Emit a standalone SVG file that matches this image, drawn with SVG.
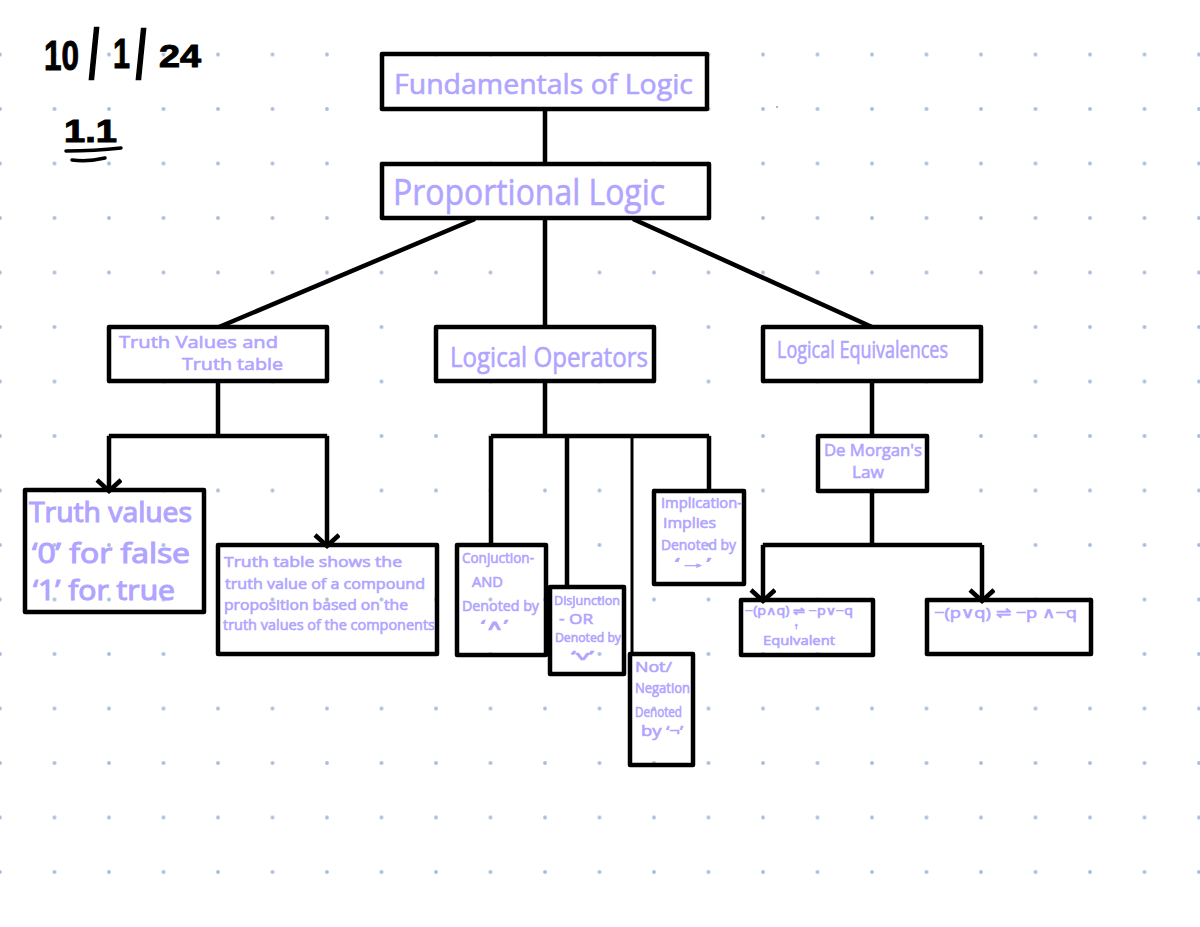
<svg xmlns="http://www.w3.org/2000/svg" width="1200" height="927" viewBox="0 0 1200 927">
<style>
.box{fill:none;stroke:#000;stroke-width:4.5;stroke-linejoin:round}
.link{fill:none;stroke:#000;stroke-width:4.5}
.thin{stroke-width:3}
.t{font-family:"Open Sans","Liberation Sans","DejaVu Sans",sans-serif;fill:#b0a4ff;stroke:#b0a4ff;stroke-width:.6;font-weight:400}
.heavy{stroke-width:1.1}
.ink{font-family:"Liberation Sans",sans-serif;fill:#000;stroke:#000;stroke-width:1;font-weight:700}
.slash{stroke-width:2.5}
</style>
<defs>
<pattern id="dots" width="54.5" height="54.5" patternUnits="userSpaceOnUse"><circle cx="0" cy="0" r="1.9" fill="#a9bddb"/><circle cx="54.5" cy="0" r="1.9" fill="#a9bddb"/><circle cx="0" cy="54.5" r="1.9" fill="#a9bddb"/><circle cx="54.5" cy="54.5" r="1.9" fill="#a9bddb"/></pattern>
<marker id="open" markerUnits="userSpaceOnUse" markerWidth="30" markerHeight="30" refX="14" refY="13" orient="auto"><path d="M3 1L14 13L3 25" fill="none" stroke="#000" stroke-width="4.5"/></marker>
</defs>
<rect width="1200" height="927" fill="#fff"/>
<rect x="0" y="27" width="1200" height="870" fill="url(#dots)"/>
<circle cx="777" cy="107" r=".7" fill="#333"/>
<g id="heading">
<text class="ink" font-size="42" x="44" y="70" textLength="35" lengthAdjust="spacingAndGlyphs">10</text>
<text class="ink slash" font-size="68" x="89" y="78" textLength="10" lengthAdjust="spacingAndGlyphs">/</text>
<text class="ink" font-size="42" x="113" y="68" textLength="17" lengthAdjust="spacingAndGlyphs">1</text>
<text class="ink slash" font-size="66" x="136" y="77" textLength="10" lengthAdjust="spacingAndGlyphs">/</text>
<text class="ink" font-size="32" x="159" y="67" textLength="42" lengthAdjust="spacingAndGlyphs">24</text>
<text class="ink" font-size="32" x="64" y="142" textLength="53" lengthAdjust="spacingAndGlyphs">1.1</text>
<path d="M66 151Q95 151 121 148M72 160Q88 162 105 158" fill="none" stroke="#000" stroke-width="3.500" stroke-linecap="round"/>
</g>
<g id="connectors">
<path class="link" d="M545 109V163M545 218V327M475 219L219 327M633 219L872 327M218 381V436M109 436H327"/>
<path class="link" marker-end="url(#open)" d="M109 436V491"/>
<path class="link" marker-end="url(#open)" d="M327 436V546"/>
<path class="link" d="M545 381V436M491 436H709M491 436V545M567 436V587M709 436V491"/>
<path class="link thin" d="M632 436V654"/>
<path class="link" d="M872 381V436M872 491V545M763 545H982"/>
<path class="link" marker-end="url(#open)" d="M763 545V601"/>
<path class="link" marker-end="url(#open)" d="M982 545V601"/>
</g>
<g id="fundamentals"><rect class="box" x="382" y="54" width="325" height="55"/><text class="t" font-size="28" x="394" y="94" textLength="299" lengthAdjust="spacingAndGlyphs">Fundamentals of Logic</text></g>
<g id="proportional"><rect class="box" x="382" y="164" width="327" height="54"/><text class="t" font-size="37" x="393" y="205" textLength="272" lengthAdjust="spacingAndGlyphs">Proportional Logic</text></g>
<g id="truth-header"><rect class="box" x="109" y="327" width="218" height="54"/><text class="t" font-size="17" x="119" y="348" textLength="159" lengthAdjust="spacingAndGlyphs">Truth Values and</text><text class="t" font-size="17" x="182" y="370" textLength="101" lengthAdjust="spacingAndGlyphs">Truth table</text></g>
<g id="operators"><rect class="box" x="436" y="327" width="218" height="54"/><text class="t" font-size="28" x="450" y="367" textLength="198" lengthAdjust="spacingAndGlyphs">Logical Operators</text></g>
<g id="equivalences"><rect class="box" x="763" y="327" width="218" height="54"/><text class="t" font-size="23" x="777" y="358" textLength="171" lengthAdjust="spacingAndGlyphs">Logical Equivalences</text></g>
<g id="de-morgan"><rect class="box" x="818" y="436" width="109" height="55"/><text class="t" font-size="17" x="824" y="456" textLength="98" lengthAdjust="spacingAndGlyphs">De Morgan's</text><text class="t" font-size="17" x="852" y="478" textLength="32" lengthAdjust="spacingAndGlyphs">Law</text></g>
<g id="truth-values"><rect class="box" x="25" y="490" width="179" height="122"/><text class="t heavy" font-size="27" x="29" y="522" textLength="163" lengthAdjust="spacingAndGlyphs">Truth values</text><text class="t heavy" font-size="27" x="32" y="563" textLength="158" lengthAdjust="spacingAndGlyphs">‘0’ for false</text><text class="t heavy" font-size="27" x="33" y="600" textLength="142" lengthAdjust="spacingAndGlyphs">‘1’ for true</text></g>
<g id="truth-table"><rect class="box" x="218" y="545" width="219" height="109"/><text class="t" font-size="14" x="224" y="567" textLength="178" lengthAdjust="spacingAndGlyphs">Truth table shows the</text><text class="t" font-size="14" x="225" y="589" textLength="200" lengthAdjust="spacingAndGlyphs">truth value of a compound</text><text class="t" font-size="14" x="224" y="610" textLength="184" lengthAdjust="spacingAndGlyphs">proposition based on the</text><text class="t" font-size="14" x="223" y="630" textLength="212" lengthAdjust="spacingAndGlyphs">truth values of the components</text></g>
<g id="conjunction"><rect class="box" x="457" y="545" width="89" height="110"/><text class="t" font-size="14" x="462" y="563" textLength="72" lengthAdjust="spacingAndGlyphs">Conjuction-</text><text class="t" font-size="14" x="472" y="587" textLength="31" lengthAdjust="spacingAndGlyphs">AND</text><text class="t" font-size="14" x="462" y="611" textLength="77" lengthAdjust="spacingAndGlyphs">Denoted by</text><text class="t" font-size="14" x="481" y="630" textLength="27" lengthAdjust="spacingAndGlyphs">‘∧’</text></g>
<g id="disjunction"><rect class="box" x="550" y="587" width="74" height="87"/><text class="t" font-size="13" x="554" y="605" textLength="66" lengthAdjust="spacingAndGlyphs">Disjunction</text><text class="t" font-size="14" x="559" y="624" textLength="34" lengthAdjust="spacingAndGlyphs">- OR</text><text class="t" font-size="12" x="555" y="642" textLength="66" lengthAdjust="spacingAndGlyphs">Denoted by</text><text class="t" font-size="12" x="571" y="660" textLength="23" lengthAdjust="spacingAndGlyphs">‘v’</text></g>
<g id="negation"><rect class="box" x="630" y="654" width="63" height="111"/><text class="t" font-size="14" x="635" y="672" textLength="37" lengthAdjust="spacingAndGlyphs">Not/</text><text class="t" font-size="14" x="635" y="693" textLength="55" lengthAdjust="spacingAndGlyphs">Negation</text><text class="t" font-size="14" x="635" y="717" textLength="47" lengthAdjust="spacingAndGlyphs">Denoted</text><text class="t" font-size="14" x="641" y="736" textLength="42" lengthAdjust="spacingAndGlyphs">by ‘¬’</text></g>
<g id="implication"><rect class="box" x="654" y="491" width="90" height="93"/><text class="t" font-size="14" x="661" y="508" textLength="81" lengthAdjust="spacingAndGlyphs">Implication-</text><text class="t" font-size="14" x="663" y="528" textLength="53" lengthAdjust="spacingAndGlyphs">Implies</text><text class="t" font-size="14" x="661" y="550" textLength="75" lengthAdjust="spacingAndGlyphs">Denoted by</text><text class="t" font-size="14" x="675" y="568" textLength="36" lengthAdjust="spacingAndGlyphs">‘→’</text></g>
<g id="law-one"><rect class="box" x="741" y="600" width="132" height="55"/><text class="t" font-size="12" x="745" y="615" textLength="108" lengthAdjust="spacingAndGlyphs">−(p∧q) ⇌ −p∨−q</text><text class="t" font-size="9" x="794" y="629">↑</text><text class="t" font-size="13" x="763" y="645" textLength="72" lengthAdjust="spacingAndGlyphs">Equivalent</text></g>
<g id="law-two"><rect class="box" x="927" y="600" width="164" height="54"/><text class="t" font-size="15" x="934" y="618" textLength="143" lengthAdjust="spacingAndGlyphs">−(p∨q) ⇌ −p ∧−q</text></g>
</svg>
